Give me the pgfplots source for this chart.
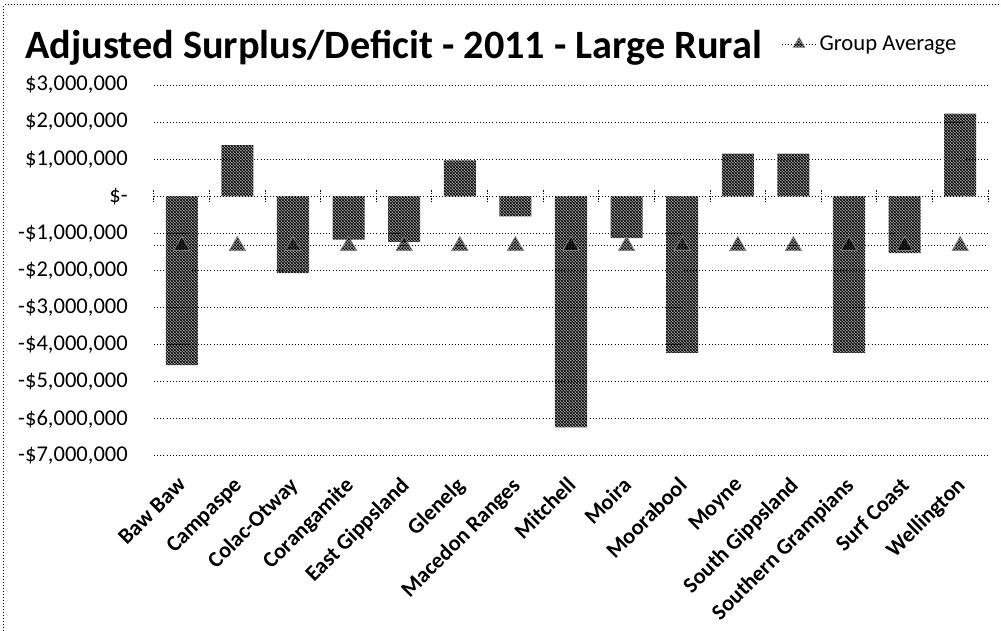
\documentclass[border=0pt]{standalone}
\usepackage{fontspec}
\setmainfont{Carlito}
\usepackage{pgfplots}
\pgfplotsset{compat=1.18}
\usepackage{pgfplotstable}
\usetikzlibrary{patterns.meta}

\tikzdeclarepattern{
  name=checker,
  type=uncolored,
  bottom left={(0pt,0pt)},
  top right={(2.5pt,2.5pt)},
  tile size={(2.5pt,2.5pt)},
  code={
    \fill (1.25pt,1.25pt) circle (0.95pt);
    \fill (0pt,0pt) circle (0.95pt);
    \fill (2.5pt,0pt) circle (0.95pt);
    \fill (0pt,2.5pt) circle (0.95pt);
    \fill (2.5pt,2.5pt) circle (0.95pt);
  }
}

\pgfplotstableread{
x y
0 -4550000
1 1380000
2 -2070000
3 -1170000
4 -1230000
5 970000
6 -540000
7 -6230000
8 -1130000
9 -4220000
10 1150000
11 1150000
12 -4220000
13 -1530000
14 2230000
}\surplus

\pgfplotstableread{
x y
0 -1334000
1 -1334000
2 -1334000
3 -1334000
4 -1334000
5 -1334000
6 -1334000
7 -1334000
8 -1334000
9 -1334000
10 -1334000
11 -1334000
12 -1334000
13 -1334000
14 -1334000
}\average

\tikzset{avgline/.style={black, line width=0.75pt, dash pattern=on 0.75pt off 1.5pt}}
\pgfplotsset{avglegend/.style={legend image code/.code={
    \draw[avgline] (0pt,0pt) -- (26pt,0pt);
    \draw[##1, mark size=5pt] plot coordinates {(13pt,0pt)};
  }}}

\begin{document}
\begin{tikzpicture}
\begin{axis}[
  at={(0,0)}, anchor=south west,
  scale only axis, width=625.5pt, height=278.25pt,
  xmin=-0.5, xmax=14.5, ymin=-7000000, ymax=3000000,
  clip=false,
  axis line style={draw=none},
  major tick length=0pt,
  xtick={0,1,2,3,4,5,6,7,8,9,10,11,12,13,14},
  xticklabels={Baw Baw, Campaspe, Colac-Otway, Corangamite, East Gippsland, Glenelg, Macedon Ranges, Mitchell, Moira, Moorabool, Moyne, South Gippsland, Southern Grampians, Surf Coast, Wellington},
  xticklabel style={rotate=45, anchor=north east, font=\fontsize{16.7}{20}\selectfont\bfseries, xshift=-13pt, yshift=-7.6pt, inner sep=0pt},
  ytick={-7000000,-6000000,-5000000,-4000000,-3000000,-2000000,-1000000,0,1000000,2000000,3000000},
  yticklabels={{-\$7,000,000},{-\$6,000,000},{-\$5,000,000},{-\$4,000,000},{-\$3,000,000},{-\$2,000,000},{-\$1,000,000},{\$-},{\$1,000,000},{\$2,000,000},{\$3,000,000}},
  yticklabel style={font=\fontsize{16.9}{20}\selectfont, anchor=east, inner sep=0pt, xshift=-19.5pt},
  scaled y ticks=false,
  ymajorgrids,
  grid style={black, line width=0.75pt, dash pattern=on 0.75pt off 1.6pt},
  legend style={draw=none, fill=none, at={(0.7518,1.1105)}, anchor=west,
    font=\fontsize{17}{20}\selectfont, inner sep=0pt,
    /tikz/every even column/.append style={column sep=2pt}},
  legend cell align=left,
]
\addplot[ybar, bar width=0.576, draw=none, pattern=checker, forget plot] table[x=x, y=y] {\surplus};
\addplot[avgline, forget plot] coordinates {(-0.5,-1334000) (14.5,-1334000)};
\addplot[only marks, mark=|, mark size=4.5pt, mark options={black, line width=0.75pt, dash pattern=on 1pt off 1pt}, forget plot] coordinates {(-0.5,0) (0.5,0) (1.5,0) (2.5,0) (3.5,0) (4.5,0) (5.5,0) (6.5,0) (7.5,0) (8.5,0) (9.5,0) (10.5,0) (11.5,0) (12.5,0) (13.5,0) (14.5,0)};
\addplot[only marks, mark=triangle*, mark size=7pt,
  mark options={draw=gray, line width=0.5pt, pattern=checker},
  avglegend] table[x=x, y=y] {\average};
\addlegendentry{Group Average}
\end{axis}
\node[anchor=base west, font=\fontsize{30.2}{34}\selectfont\bfseries, inner sep=0pt] at (-96.75pt,297.75pt) {Adjusted Surplus/Deficit - 2011 - Large Rural};
\draw[black, line width=0.75pt, dash pattern=on 0.75pt off 1.5pt] (-112.5pt,-145pt) rectangle (650pt,338.25pt);
\pgfresetboundingbox
\path (-115.5pt,-131.25pt) rectangle (635.25pt,342pt);
\end{tikzpicture}
\end{document}
